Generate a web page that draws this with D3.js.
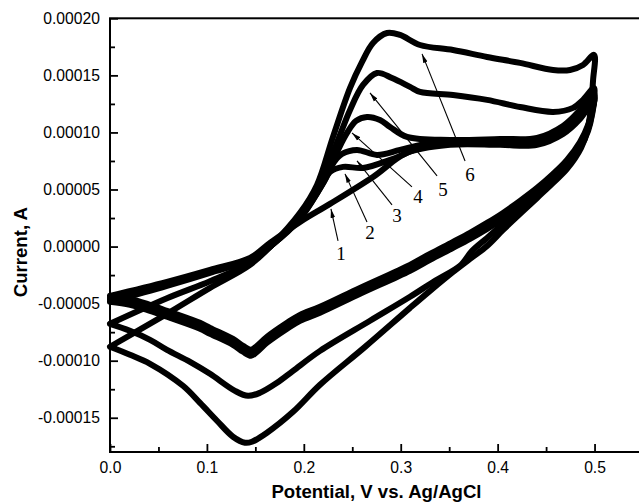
<!DOCTYPE html>
<html><head><meta charset="utf-8">
<script src="https://cdn.jsdelivr.net/npm/d3@7"></script>
<style>body{margin:0;background:#fff}svg{display:block}</style>
</head><body>
<svg id="c" width="639" height="502"></svg>
<script>
// current values below are in units of 1e-5 A (10 µA); potential in V vs Ag/AgCl
const UNIT = 1e-5;

const potentialTicks = [0, 0.1, 0.2, 0.3, 0.4, 0.5];
const potentialMinorTicks = [0.05, 0.15, 0.25, 0.35, 0.45, 0.55];
const currentTicks = [-0.00015, -0.0001, -0.00005, 0, 0.00005, 0.0001, 0.00015, 0.0002];
const currentMinorTicks = [-0.000175, -0.000125, -0.000075, -0.000025, 0.000025, 0.000075, 0.000125, 0.000175];

const curve1Anodic = [[0,-4.32],[0.0588,-3.09],[0.1032,-2.04],[0.1445,-0.99],[0.1651,0.32],[0.1961,2.16],[0.2270,3.74],[0.2714,6.10],[0.3065,8.21],[0.3509,8.91],[0.4025,8.91],[0.4407,8.91],[0.4675,9.87],[0.4850,11.18],[0.4995,12.85]];
const curve1Cathodic = [[0.4974,12.06],[0.4933,10.65],[0.4850,9.17],[0.4716,7.59],[0.4572,6.36],[0.4407,5.14],[0.4231,4.00],[0.4056,2.95],[0.3891,2.07],[0.3715,1.20],[0.3540,0.41],[0.3302,-0.64],[0.3096,-1.60],[0.2580,-3.62],[0.2167,-5.28],[0.1961,-5.98],[0.1827,-6.68],[0.1620,-7.91],[0.1517,-8.70],[0.1455,-9.05],[0.1373,-8.70],[0.1269,-8.09],[0.1032,-7.12],[0.0929,-6.68],[0.0588,-5.63],[0.0413,-5.11],[0.0206,-4.58],[0,-4.32]];

const curve2Anodic = [[0,-4.49],[0.0588,-3.27],[0.1032,-2.13],[0.1445,-1.08],[0.1672,0.15],[0.1961,2.43],[0.2188,5.40],[0.2270,6.54],[0.2405,6.98],[0.2611,6.89],[0.2890,7.59],[0.3199,8.64],[0.3509,9.08],[0.4025,9.17],[0.4407,9.17],[0.4675,10.13],[0.4850,11.45],[0.4995,13.11]];
const curve2Cathodic = [[0.4974,11.89],[0.4933,10.48],[0.4850,9.00],[0.4716,7.42],[0.4572,6.19],[0.4407,4.97],[0.4231,3.83],[0.4056,2.78],[0.3891,1.90],[0.3715,1.03],[0.3540,0.24],[0.3302,-0.81],[0.3096,-1.77],[0.2580,-3.79],[0.2167,-5.45],[0.1961,-6.15],[0.1827,-6.85],[0.1620,-8.08],[0.1517,-8.87],[0.1455,-9.22],[0.1373,-8.87],[0.1269,-8.26],[0.1032,-7.29],[0.0929,-6.85],[0.0588,-5.80],[0.0413,-5.28],[0.0206,-4.75],[0,-4.49]];

const curve3Anodic = [[0,-4.67],[0.0588,-3.35],[0.1032,-2.22],[0.1445,-1.16],[0.1672,0.15],[0.1961,2.51],[0.2208,5.67],[0.2312,7.42],[0.2394,8.12],[0.2549,8.47],[0.2755,8.03],[0.2993,8.47],[0.3302,9.08],[0.3715,9.26],[0.4025,9.34],[0.4407,9.34],[0.4675,10.31],[0.4850,11.71],[0.4995,13.28]];
const curve3Cathodic = [[0.4974,11.71],[0.4933,10.30],[0.4850,8.82],[0.4716,7.24],[0.4572,6.01],[0.4407,4.79],[0.4231,3.65],[0.4056,2.60],[0.3891,1.72],[0.3715,0.85],[0.3540,0.06],[0.3302,-0.99],[0.3096,-1.95],[0.2580,-3.97],[0.2167,-5.63],[0.1961,-6.33],[0.1827,-7.03],[0.1620,-8.26],[0.1517,-9.05],[0.1455,-9.40],[0.1373,-9.05],[0.1269,-8.44],[0.1032,-7.47],[0.0929,-7.03],[0.0588,-5.98],[0.0413,-5.46],[0.0206,-4.93],[0,-4.67]];

const curve4Anodic = [[0,-4.84],[0.0588,-3.44],[0.1032,-2.30],[0.1445,-1.16],[0.1672,0.15],[0.1961,2.60],[0.2208,5.84],[0.2353,8.47],[0.2446,9.96],[0.2539,11.01],[0.2652,11.36],[0.2786,11.09],[0.2890,10.48],[0.3065,9.61],[0.3509,9.34],[0.4025,9.43],[0.4407,9.52],[0.4675,10.57],[0.4850,11.97],[0.4995,13.46]];
const curve4Cathodic = [[0.4974,11.54],[0.4933,10.13],[0.4850,8.65],[0.4716,7.07],[0.4572,5.84],[0.4407,4.62],[0.4231,3.48],[0.4056,2.43],[0.3891,1.55],[0.3715,0.68],[0.3540,-0.11],[0.3302,-1.16],[0.3096,-2.12],[0.2580,-4.14],[0.2167,-5.80],[0.1961,-6.50],[0.1827,-7.20],[0.1620,-8.43],[0.1517,-9.22],[0.1455,-9.57],[0.1373,-9.22],[0.1269,-8.61],[0.1032,-7.64],[0.0929,-7.20],[0.0588,-6.15],[0.0413,-5.63],[0.0206,-5.10],[0,-4.84]];

const curve5Anodic = [[0,-6.77],[0.0588,-4.53],[0.1032,-3.04],[0.1445,-1.43],[0.1672,0.15],[0.1961,2.78],[0.2188,5.84],[0.2353,9.34],[0.2477,11.97],[0.2611,14.16],[0.2755,15.21],[0.2910,14.77],[0.3096,13.99],[0.3199,13.55],[0.3540,13.28],[0.3891,12.85],[0.4231,12.23],[0.4572,11.80],[0.4778,12.15],[0.4881,12.85],[0.4995,13.90]];
const curve5Cathodic = [[0.4974,12.15],[0.4933,10.48],[0.4861,8.82],[0.4716,6.98],[0.4572,5.75],[0.4407,4.53],[0.4231,3.21],[0.4056,1.99],[0.3891,0.76],[0.3736,-0.38],[0.3612,-1.69],[0.3354,-3.00],[0.3096,-4.40],[0.2683,-6.50],[0.2167,-9.14],[0.1889,-10.89],[0.1723,-11.94],[0.1548,-12.81],[0.1424,-13.08],[0.1290,-12.64],[0.1032,-11.15],[0.0826,-10.10],[0.0588,-9.05],[0.0413,-8.17],[0.0206,-7.38],[0,-6.77]];

const curve6Anodic = [[0,-8.78],[0.0588,-5.89],[0.1032,-3.62],[0.1445,-1.60],[0.1672,0.15],[0.1961,2.95],[0.2136,5.40],[0.2301,9.61],[0.2477,13.90],[0.2601,16.18],[0.2714,17.84],[0.2859,18.71],[0.2993,18.54],[0.3199,17.66],[0.3540,17.22],[0.3891,16.61],[0.4231,16.09],[0.4572,15.47],[0.4747,15.47],[0.4881,15.91],[0.4995,16.79]];
const curve6Cathodic = [[0.4985,14.60],[0.4964,12.41],[0.4933,10.39],[0.4861,8.64],[0.4716,6.80],[0.4572,5.58],[0.4407,4.26],[0.4231,2.86],[0.4056,1.46],[0.3891,0.06],[0.3715,-1.08],[0.3540,-2.22],[0.3302,-3.88],[0.3096,-5.37],[0.2632,-8.79],[0.2167,-12.11],[0.1889,-14.48],[0.1620,-16.31],[0.1465,-17.10],[0.1393,-17.19],[0.1269,-16.66],[0.1104,-15.26],[0.0929,-13.70],[0.0753,-12.20],[0.0413,-10.27],[0.0206,-9.48],[0,-8.78]];

const curveLabels = ["1","2","3","4","5","6"];
// label centre, arrow tail, arrow tip  (V, current in 1e-5 A)
const labelPositions = [[0.2384,-0.64],[0.2683,1.20],[0.2962,2.69],[0.3178,4.35],[0.3437,4.97],[0.3715,6.28]];
const arrowTails = [[0.2353,0.50],[0.2652,2.16],[0.2910,3.65],[0.3116,5.23],[0.3375,6.19],[0.3664,7.50]];
const arrowTips = [[0.2280,3.30],[0.2425,6.37],[0.2549,7.51],[0.2497,9.96],[0.2683,13.46],[0.3220,16.88]];

const loops = [
  curve1Anodic.concat(curve1Cathodic),
  curve2Anodic.concat(curve2Cathodic),
  curve3Anodic.concat(curve3Cathodic),
  curve4Anodic.concat(curve4Cathodic),
  curve5Anodic.concat(curve5Cathodic),
  curve6Anodic.concat(curve6Cathodic)
];

const svg = d3.select('#c');
const sans = "'Liberation Sans', Arial, Helvetica, sans-serif";
const serif = "'Liberation Serif', 'Times New Roman', serif";

const x = d3.scaleLinear().domain([0, 0.55]).range([110, 643]);
const y = d3.scaleLinear().domain([-0.00018, 0.0002]).range([452, 18.3]);

svg.append('defs').append('marker')
  .attr('id','ah').attr('viewBox','0 -3 9 6').attr('refX',9).attr('refY',0)
  .attr('markerUnits','userSpaceOnUse').attr('markerWidth',9).attr('markerHeight',6)
  .attr('orient','auto')
  .append('path').attr('d','M0,-2.3L9,0L0,2.3Z').attr('fill','#000');

const line = d3.line()
  .x(d => x(d[0]))
  .y(d => y(d[1] * UNIT))
  .curve(d3.curveCatmullRom.alpha(0.5));

svg.append('g').selectAll('path').data(loops).join('path')
  .attr('d', line)
  .attr('fill','none').attr('stroke','#000').attr('stroke-width',6)
  .attr('stroke-linejoin','round').attr('stroke-linecap','round');

// arrows
svg.append('g').selectAll('line').data(arrowTails).join('line')
  .attr('x1', d => x(d[0])).attr('y1', d => y(d[1]*UNIT))
  .attr('x2', (d,i) => x(arrowTips[i][0])).attr('y2', (d,i) => y(arrowTips[i][1]*UNIT))
  .attr('stroke','#000').attr('stroke-width',1.1).attr('marker-end','url(#ah)');

svg.append('g').selectAll('text').data(curveLabels).join('text')
  .attr('x', (d,i) => x(labelPositions[i][0]))
  .attr('y', (d,i) => y(labelPositions[i][1]*UNIT))
  .attr('text-anchor','middle').attr('dominant-baseline','central')
  .attr('font-family', serif).attr('font-size', 19).text(d => d);

// frame
svg.append('rect')
  .attr('x', x(0)).attr('y', y(0.0002))
  .attr('width', x(0.55) - x(0)).attr('height', y(-0.00018) - y(0.0002))
  .attr('fill','none').attr('stroke','#000').attr('stroke-width',2);

function styleAxis(g){
  g.select('.domain').remove();
  g.selectAll('line').attr('stroke','#000').attr('stroke-width',1.8);
  g.selectAll('text').attr('font-family', sans).attr('font-size', 15.7).attr('fill','#000');
}

svg.append('g').attr('transform',`translate(${x(0)},0)`)
  .call(d3.axisLeft(y).tickValues(currentTicks).tickFormat(d => d.toFixed(5))
    .tickSizeInner(-8).tickSizeOuter(0).tickPadding(10))
  .call(styleAxis);
svg.append('g').attr('transform',`translate(${x(0)},0)`)
  .call(d3.axisLeft(y).tickValues(currentMinorTicks).tickFormat('')
    .tickSizeInner(-5).tickSizeOuter(0))
  .call(styleAxis);

svg.append('g').attr('transform',`translate(0,${y(-0.00018)})`)
  .call(d3.axisBottom(x).tickValues(potentialTicks).tickFormat(d => d.toFixed(1))
    .tickSizeInner(-8).tickSizeOuter(0).tickPadding(10))
  .call(styleAxis);
svg.append('g').attr('transform',`translate(0,${y(-0.00018)})`)
  .call(d3.axisBottom(x).tickValues(potentialMinorTicks).tickFormat('')
    .tickSizeInner(-5).tickSizeOuter(0))
  .call(styleAxis);

svg.append('text')
  .attr('x', (x(0) + x(0.55)) / 2).attr('y', 498)
  .attr('text-anchor','middle').attr('font-family', sans).attr('font-weight','bold')
  .attr('font-size', 18.6).text('Potential, V vs. Ag/AgCl');

svg.append('text')
  .attr('transform', `translate(27,${(y(-0.00018)+y(0.0002))/2 + 17}) rotate(-90)`)
  .attr('text-anchor','middle').attr('font-family', sans).attr('font-weight','bold')
  .attr('font-size', 18.6).text('Current, A');
</script>
</body></html>
